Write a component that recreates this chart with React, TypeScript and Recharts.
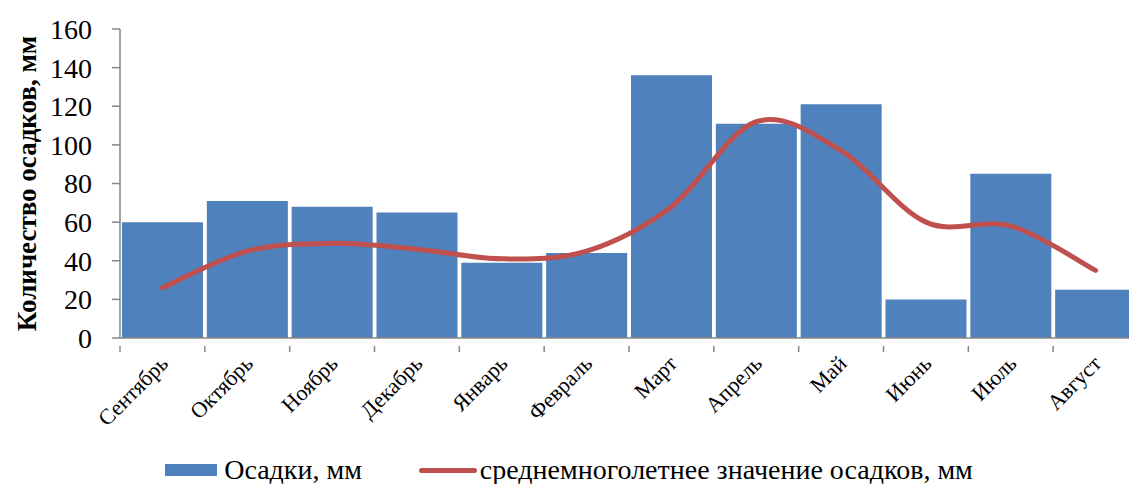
import { Bar, ComposedChart, Legend, Line, XAxis, YAxis } from 'recharts';

const months = [
  'Сентябрь', 'Октябрь', 'Ноябрь', 'Декабрь', 'Январь', 'Февраль',
  'Март', 'Апрель', 'Май', 'Июнь', 'Июль', 'Август',
];
const precip = [60, 71, 68, 65, 39, 44, 136, 111, 121, 20, 85, 25];
const longTermAvg = [26, 45, 49, 46, 41, 45, 68, 112, 97, 60, 58, 35];
const yTicks = [0, 20, 40, 60, 80, 100, 120, 140, 160];

const BAR_NAME = 'Осадки, мм';
const LINE_NAME = 'среднемноголетнее значение осадков, мм';

const data = months.map((m, i) => ({ month: m, precip: precip[i], avg: longTermAvg[i] }));

const FONT = '"Liberation Serif", "Times New Roman", serif';
const AXIS = '#868686';
const W = 1140;
const H = 484;
const LEFT = 120;
const RIGHT = 2;
const HALF_BAND = (W - LEFT - RIGHT) / months.length / 2;

// Excel-style smoothing: bezier with catmull-rom control points
const excelSmooth = (ctx: any) => {
  let pts: [number, number][] = [];
  return {
    areaStart() {},
    areaEnd() {},
    lineStart() {
      pts = [];
    },
    point(x: number, y: number) {
      pts.push([x, y]);
    },
    lineEnd() {
      if (!pts.length) return;
      ctx.moveTo(pts[0][0], pts[0][1]);
      for (let i = 0; i < pts.length - 1; i++) {
        const p0 = pts[i - 1] || pts[i];
        const p1 = pts[i];
        const p2 = pts[i + 1];
        const p3 = pts[i + 2] || p2;
        ctx.bezierCurveTo(
          p1[0] + (p2[0] - p0[0]) / 6,
          p1[1] + (p2[1] - p0[1]) / 6,
          p2[0] - (p3[0] - p1[0]) / 6,
          p2[1] - (p3[1] - p1[1]) / 6,
          p2[0],
          p2[1],
        );
      }
    },
  };
};

function MonthTick({ x, y, payload }: any) {
  return (
    <g>
      <line x1={x - HALF_BAND} x2={x - HALF_BAND} y1={y} y2={y + 6} stroke={AXIS} strokeWidth={1.5} />
      <text
        x={x + 7}
        y={y + 19}
        transform={`rotate(-45, ${x + 7}, ${y + 19})`}
        textAnchor="end"
        fontSize={22}
        fontFamily={FONT}
        fill="#000"
      >
        {payload.value}
      </text>
    </g>
  );
}

function LegendContent() {
  return (
    <div
      style={{
        display: 'flex',
        alignItems: 'center',
        justifyContent: 'center',
        fontFamily: FONT,
        fontSize: 28,
        color: '#000',
        paddingLeft: 0,
      }}
    >
      <span style={{ display: 'inline-block', width: 52, height: 12, background: '#4F81BD', marginRight: 7 }} />
      <span>{BAR_NAME}</span>
      <span
        style={{
          display: 'inline-block',
          width: 58,
          height: 5,
          borderRadius: 3,
          background: '#C0504D',
          marginLeft: 57,
          marginRight: 3,
        }}
      />
      <span>{LINE_NAME}</span>
    </div>
  );
}

export default function App() {
  return (
    <div style={{ position: 'fixed', left: 0, top: 0, width: 1129, height: 484, overflow: 'hidden', background: '#fff' }}>
      <ComposedChart
        width={W}
        height={H}
        data={data}
        margin={{ top: 29, right: RIGHT, bottom: 0, left: 0 }}
        barCategoryGap={2}
      >
        <XAxis
          dataKey="month"
          interval={0}
          height={116}
          stroke={AXIS}
          strokeWidth={1.5}
          tickLine={false}
          tick={<MonthTick />}
        />
        <YAxis
          width={LEFT}
          domain={[0, 160]}
          ticks={yTicks}
          interval={0}
          stroke={AXIS}
          strokeWidth={1.5}
          tickSize={8}
          tickMargin={20}
          tick={{ fontSize: 28, fontFamily: FONT, fill: '#000' }}
          label={{
            value: 'Количество осадков, мм',
            angle: -90,
            position: 'insideLeft',
            offset: 26,
            style: { textAnchor: 'middle', fontSize: 27, fontWeight: 'bold', fontFamily: FONT, fill: '#000' },
          }}
        />
        <Legend verticalAlign="bottom" height={30} content={<LegendContent />} />
        <Bar dataKey="precip" name={BAR_NAME} fill="#4F81BD" isAnimationActive={false} />
        <Line
          dataKey="avg"
          name={LINE_NAME}
          type={excelSmooth as any}
          stroke="#C0504D"
          strokeWidth={5}
          strokeLinecap="round"
          dot={false}
          activeDot={false}
          isAnimationActive={false}
        />
      </ComposedChart>
    </div>
  );
}
